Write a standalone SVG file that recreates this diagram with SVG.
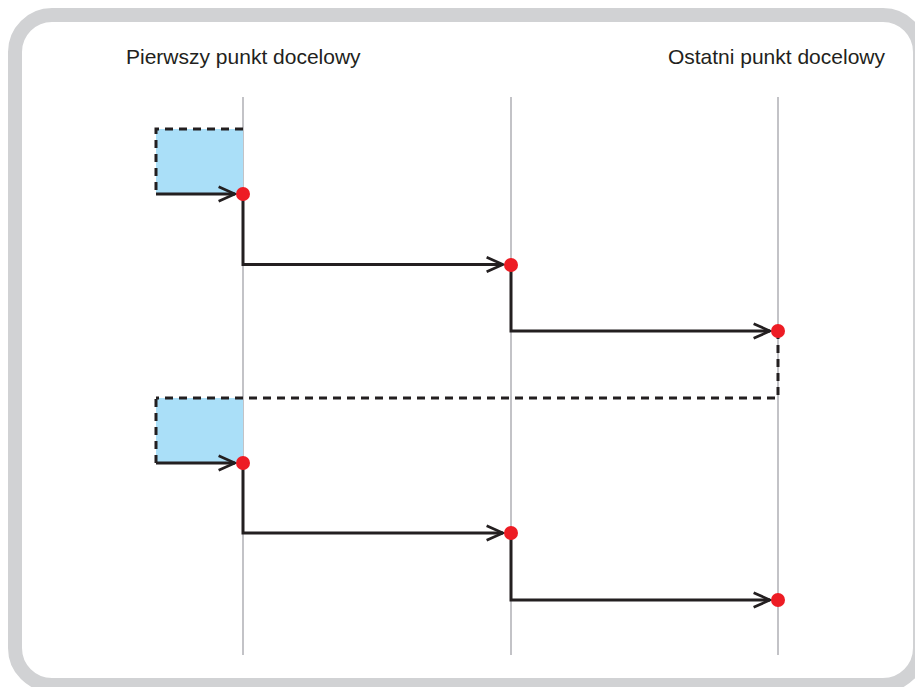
<svg xmlns="http://www.w3.org/2000/svg" width="915" height="687" viewBox="0 0 915 687">
<defs>
<style>
.lbl{font-family:"Liberation Sans",Arial,sans-serif;font-size:21px;fill:#231f20}
.axis{stroke:#c3c3c7;stroke-width:2;fill:none}
.flow{stroke:#231f20;stroke-width:3;fill:none}
.dash{stroke:#231f20;stroke-width:3;fill:none;stroke-dasharray:8 6}
.box{fill:#aadff8;stroke:none}
.dot{fill:#ed1c24}
</style>
<marker id="arr" markerWidth="20" markerHeight="20" viewBox="-20 -10 22 20" refX="0" refY="0" orient="auto" markerUnits="userSpaceOnUse">
<path d="M-18,-8 L0,0 L-18,8" fill="none" stroke="#231f20" stroke-width="3"/>
</marker>
</defs>
<rect x="15" y="15" width="905" height="670" rx="37" ry="37" fill="#ffffff" stroke="#d1d2d4" stroke-width="14"/>
<g id="labels">
<text class="lbl" x="126" y="63.5">Pierwszy punkt docelowy</text>
<text class="lbl" x="885" y="63.5" text-anchor="end">Ostatni punkt docelowy</text>
</g>
<g id="lanes">
<line class="axis" x1="243" y1="97" x2="243" y2="655"/>
<line class="axis" x1="511" y1="97" x2="511" y2="655"/>
<line class="axis" x1="778" y1="97" x2="778" y2="655"/>
</g>
<g id="box1">
<rect class="box" x="156" y="129" width="87" height="65"/>
<path class="dash" d="M243,129 H156 V194"/>
</g>
<g id="box2">
<rect class="box" x="156" y="398" width="87" height="65"/>
<path class="dash" d="M156,463 V398"/>
</g>
<g id="connectors">
<line class="flow" x1="156" y1="194" x2="235" y2="194" marker-end="url(#arr)"/>
<path class="flow" d="M243,194 V264.5 H503" marker-end="url(#arr)"/>
<path class="flow" d="M511,265 V331 H770" marker-end="url(#arr)"/>
<path class="dash" d="M778,331 V398 H156"/>
<line class="flow" x1="156" y1="463" x2="235" y2="463" marker-end="url(#arr)"/>
<path class="flow" d="M243,463 V533 H503" marker-end="url(#arr)"/>
<path class="flow" d="M511,533 V600 H770" marker-end="url(#arr)"/>
</g>
<g id="points">
<circle class="dot" cx="243" cy="194" r="7"/>
<circle class="dot" cx="511" cy="265" r="7"/>
<circle class="dot" cx="778" cy="331" r="7"/>
<circle class="dot" cx="243" cy="463" r="7"/>
<circle class="dot" cx="511" cy="533" r="7"/>
<circle class="dot" cx="778" cy="600" r="7"/>
</g>
</svg>
